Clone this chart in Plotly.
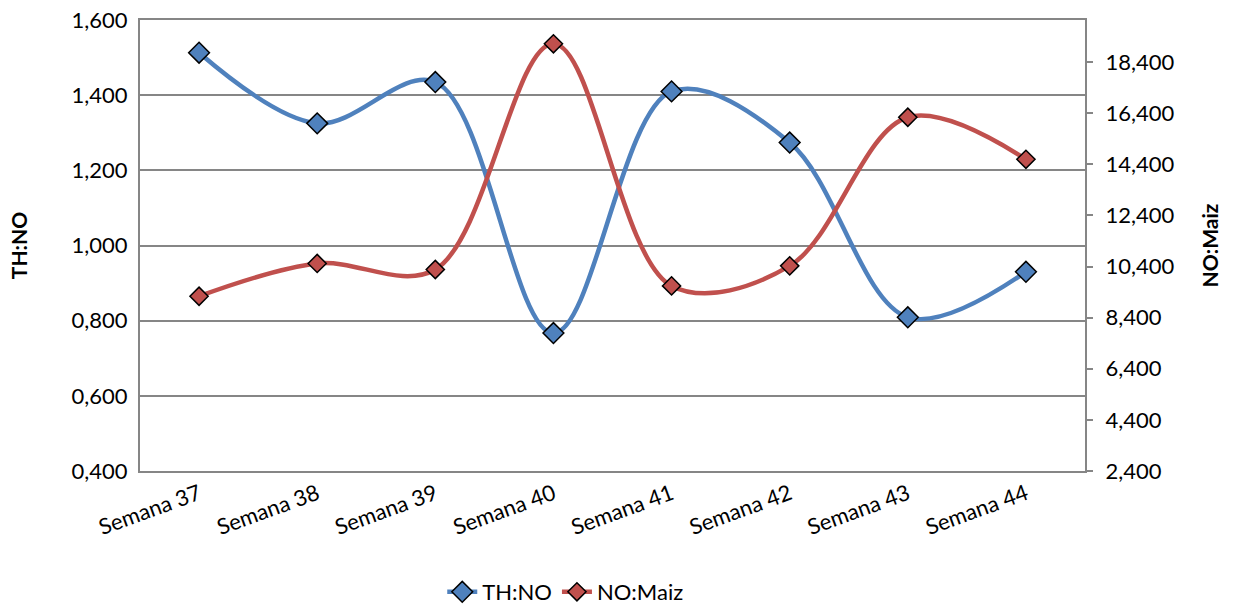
import plotly.graph_objects as go

categories = ["Semana 37", "Semana 38", "Semana 39", "Semana 40",
              "Semana 41", "Semana 42", "Semana 43", "Semana 44"]
th_no = [1.513, 1.325, 1.435, 0.767, 1.410, 1.274, 0.809, 0.930]
no_maiz = [9240, 10522, 10287, 19119, 9644, 10428, 16245, 14599]

left_ticks = [0.4, 0.6, 0.8, 1.0, 1.2, 1.4, 1.6]
left_labels = ["0,400", "0,600", "0,800", "1,000", "1,200", "1,400", "1,600"]
right_ticks = [2400, 4400, 6400, 8400, 10400, 12400, 14400, 16400, 18400]
right_labels = ["2,400", "4,400", "6,400", "8,400", "10,400", "12,400",
                "14,400", "16,400", "18,400"]

FONT = "Lato"
AX = "#868686"

fig = go.Figure()
fig.add_trace(go.Scatter(
    x=categories, y=th_no, name="TH:NO", mode="lines+markers",
    line=dict(color="#4F81BD", width=4.5, shape="spline", smoothing=1.0),
    marker=dict(symbol="diamond", size=16, color="#4F81BD",
                line=dict(color="black", width=1.5)),
    yaxis="y"))
fig.add_trace(go.Scatter(
    x=categories, y=no_maiz, name="NO:Maiz", mode="lines+markers",
    line=dict(color="#C0504D", width=4.5, shape="spline", smoothing=1.0),
    marker=dict(symbol="diamond", size=14, color="#C0504D",
                line=dict(color="black", width=1.5)),
    yaxis="y2"))

fig.update_layout(
    width=1235, height=605,
    margin=dict(l=140, r=150, t=20, b=134, autoexpand=False),
    paper_bgcolor="white", plot_bgcolor="white",
    font=dict(family=FONT, size=22, color="black"),
    showlegend=True,
    legend=dict(orientation="h", x=0.45, xanchor="center",
                y=13 / 605, yref="container", yanchor="middle",
                font=dict(size=22)),
    xaxis=dict(type="category", range=[-0.5, 7.5], tickangle=-20,
               showline=True, linecolor=AX, linewidth=2, mirror=True,
               showgrid=False, ticks="", tickfont=dict(size=22),
               automargin=False, ticklabeloverflow="allow"),
    yaxis=dict(range=[0.4, 1.6], tickvals=left_ticks, ticktext=left_labels,
               showgrid=True, gridcolor=AX, gridwidth=1.5,
               showline=True, linecolor=AX, linewidth=2, ticks="",
               zeroline=False, automargin=False, ticklabelstandoff=6,
               ticklabeloverflow="allow",
               title=dict(text="<b>TH:NO</b>", font=dict(size=21), standoff=38)),
    yaxis2=dict(range=[2400, 20050], tickvals=right_ticks, ticktext=right_labels,
                overlaying="y", side="right", showgrid=False,
                showline=True, linecolor=AX, linewidth=2,
                ticks="outside", ticklen=6, tickcolor=AX, tickwidth=1.5,
                zeroline=False, automargin=False, ticklabelstandoff=8,
                ticklabeloverflow="allow",
                title=dict(text="<b>NO:Maiz</b>", font=dict(size=21), standoff=30)),
)

fig.write_html("out.html", config={"displayModeBar": False},
               post_script="document.body.style.margin='0';")
